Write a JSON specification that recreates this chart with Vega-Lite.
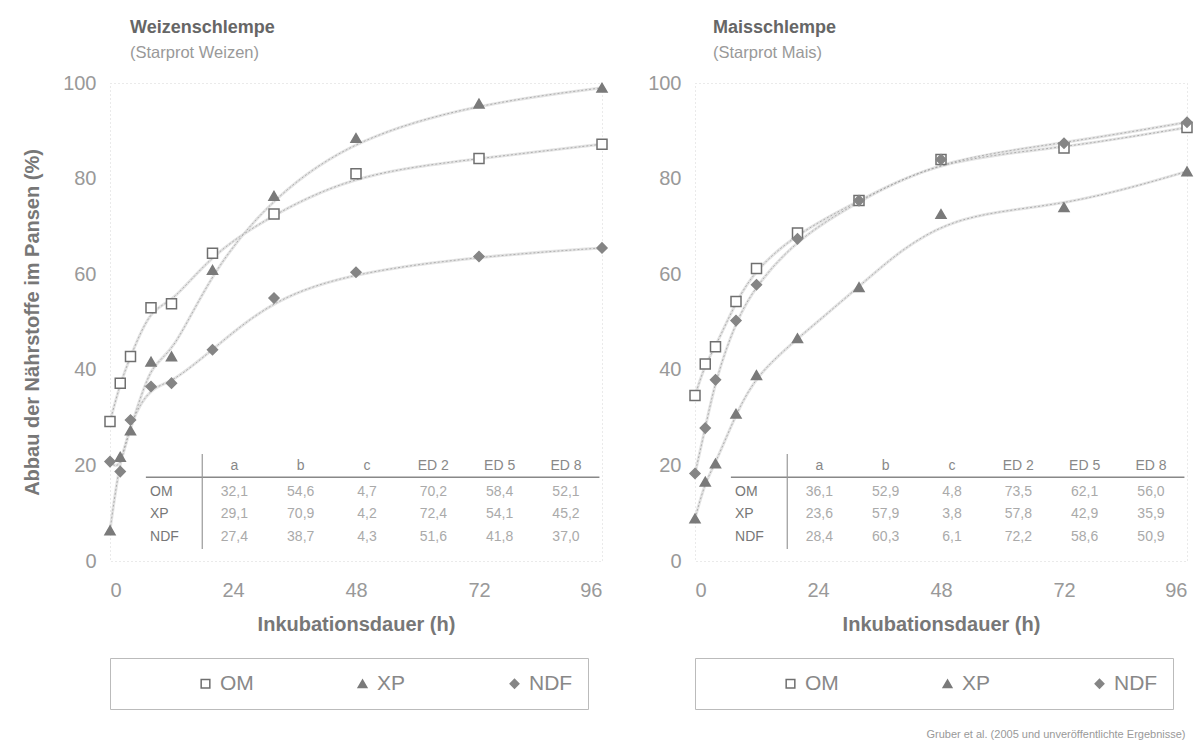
{
  "$schema": "https://vega.github.io/schema/vega-lite/v6.json",
  "background": "white",
  "padding": {"left": 22, "top": 18, "right": 12, "bottom": 4},
  "title": {"text": "Gruber et al. (2005 und unveröffentlichte Ergebnisse)", "orient": "bottom", "anchor": "end", "fontSize": 11, "fontWeight": "normal", "color": "#999999", "offset": 19, "dx": -10},
  "datasets": {
    "weizen": [
      {"t": 0, "param": "OM", "v": 29.2}, {"t": 2, "param": "OM", "v": 37.2}, {"t": 4, "param": "OM", "v": 42.8}, {"t": 8, "param": "OM", "v": 53.0}, {"t": 12, "param": "OM", "v": 53.8}, {"t": 20, "param": "OM", "v": 64.4}, {"t": 32, "param": "OM", "v": 72.6}, {"t": 48, "param": "OM", "v": 81.0}, {"t": 72, "param": "OM", "v": 84.2}, {"t": 96, "param": "OM", "v": 87.2},
      {"t": 0, "param": "XP", "v": 6.4}, {"t": 2, "param": "XP", "v": 21.8}, {"t": 4, "param": "XP", "v": 27.3}, {"t": 8, "param": "XP", "v": 41.7}, {"t": 12, "param": "XP", "v": 42.8}, {"t": 20, "param": "XP", "v": 60.9}, {"t": 32, "param": "XP", "v": 76.4}, {"t": 48, "param": "XP", "v": 88.5}, {"t": 72, "param": "XP", "v": 95.7}, {"t": 96, "param": "XP", "v": 99.0},
      {"t": 0, "param": "NDF", "v": 20.8}, {"t": 2, "param": "NDF", "v": 18.7}, {"t": 4, "param": "NDF", "v": 29.5}, {"t": 8, "param": "NDF", "v": 36.5}, {"t": 12, "param": "NDF", "v": 37.2}, {"t": 20, "param": "NDF", "v": 44.2}, {"t": 32, "param": "NDF", "v": 55.0}, {"t": 48, "param": "NDF", "v": 60.4}, {"t": 72, "param": "NDF", "v": 63.7}, {"t": 96, "param": "NDF", "v": 65.5}
    ],
    "mais": [
      {"t": 0, "param": "OM", "v": 34.6}, {"t": 2, "param": "OM", "v": 41.2}, {"t": 4, "param": "OM", "v": 44.8}, {"t": 8, "param": "OM", "v": 54.3}, {"t": 12, "param": "OM", "v": 61.2}, {"t": 20, "param": "OM", "v": 68.6}, {"t": 32, "param": "OM", "v": 75.4}, {"t": 48, "param": "OM", "v": 84.0}, {"t": 72, "param": "OM", "v": 86.4}, {"t": 96, "param": "OM", "v": 90.7},
      {"t": 0, "param": "XP", "v": 8.9}, {"t": 2, "param": "XP", "v": 16.6}, {"t": 4, "param": "XP", "v": 20.4}, {"t": 8, "param": "XP", "v": 30.8}, {"t": 12, "param": "XP", "v": 38.9}, {"t": 20, "param": "XP", "v": 46.6}, {"t": 32, "param": "XP", "v": 57.3}, {"t": 48, "param": "XP", "v": 72.6}, {"t": 72, "param": "XP", "v": 74.0}, {"t": 96, "param": "XP", "v": 81.5},
      {"t": 0, "param": "NDF", "v": 18.3}, {"t": 2, "param": "NDF", "v": 27.8}, {"t": 4, "param": "NDF", "v": 37.9}, {"t": 8, "param": "NDF", "v": 50.3}, {"t": 12, "param": "NDF", "v": 57.8}, {"t": 20, "param": "NDF", "v": 67.4}, {"t": 32, "param": "NDF", "v": 75.4}, {"t": 48, "param": "NDF", "v": 84.0}, {"t": 72, "param": "NDF", "v": 87.4}, {"t": 96, "param": "NDF", "v": 91.8}
    ],
    "weizenTab": [
      {"row": "head", "col": "a", "text": "a"}, {"row": "head", "col": "b", "text": "b"}, {"row": "head", "col": "c", "text": "c"}, {"row": "head", "col": "ED 2", "text": "ED 2"}, {"row": "head", "col": "ED 5", "text": "ED 5"}, {"row": "head", "col": "ED 8", "text": "ED 8"},
      {"row": "OM", "col": "lab", "text": "OM"}, {"row": "OM", "col": "a", "text": "32,1"}, {"row": "OM", "col": "b", "text": "54,6"}, {"row": "OM", "col": "c", "text": "4,7"}, {"row": "OM", "col": "ED 2", "text": "70,2"}, {"row": "OM", "col": "ED 5", "text": "58,4"}, {"row": "OM", "col": "ED 8", "text": "52,1"},
      {"row": "XP", "col": "lab", "text": "XP"}, {"row": "XP", "col": "a", "text": "29,1"}, {"row": "XP", "col": "b", "text": "70,9"}, {"row": "XP", "col": "c", "text": "4,2"}, {"row": "XP", "col": "ED 2", "text": "72,4"}, {"row": "XP", "col": "ED 5", "text": "54,1"}, {"row": "XP", "col": "ED 8", "text": "45,2"},
      {"row": "NDF", "col": "lab", "text": "NDF"}, {"row": "NDF", "col": "a", "text": "27,4"}, {"row": "NDF", "col": "b", "text": "38,7"}, {"row": "NDF", "col": "c", "text": "4,3"}, {"row": "NDF", "col": "ED 2", "text": "51,6"}, {"row": "NDF", "col": "ED 5", "text": "41,8"}, {"row": "NDF", "col": "ED 8", "text": "37,0"}
    ],
    "maisTab": [
      {"row": "head", "col": "a", "text": "a"}, {"row": "head", "col": "b", "text": "b"}, {"row": "head", "col": "c", "text": "c"}, {"row": "head", "col": "ED 2", "text": "ED 2"}, {"row": "head", "col": "ED 5", "text": "ED 5"}, {"row": "head", "col": "ED 8", "text": "ED 8"},
      {"row": "OM", "col": "lab", "text": "OM"}, {"row": "OM", "col": "a", "text": "36,1"}, {"row": "OM", "col": "b", "text": "52,9"}, {"row": "OM", "col": "c", "text": "4,8"}, {"row": "OM", "col": "ED 2", "text": "73,5"}, {"row": "OM", "col": "ED 5", "text": "62,1"}, {"row": "OM", "col": "ED 8", "text": "56,0"},
      {"row": "XP", "col": "lab", "text": "XP"}, {"row": "XP", "col": "a", "text": "23,6"}, {"row": "XP", "col": "b", "text": "57,9"}, {"row": "XP", "col": "c", "text": "3,8"}, {"row": "XP", "col": "ED 2", "text": "57,8"}, {"row": "XP", "col": "ED 5", "text": "42,9"}, {"row": "XP", "col": "ED 8", "text": "35,9"},
      {"row": "NDF", "col": "lab", "text": "NDF"}, {"row": "NDF", "col": "a", "text": "28,4"}, {"row": "NDF", "col": "b", "text": "60,3"}, {"row": "NDF", "col": "c", "text": "6,1"}, {"row": "NDF", "col": "ED 2", "text": "72,2"}, {"row": "NDF", "col": "ED 5", "text": "58,6"}, {"row": "NDF", "col": "ED 8", "text": "50,9"}
    ]
  },
  "spacing": 36,
  "hconcat": [
    {
      "width": 492,
      "height": 478,
      "title": {"text": "Weizenschlempe", "subtitle": "(Starprot Weizen)", "anchor": "start", "frame": "group", "dx": 20},
      "layer": [
        {
          "data": {"name": "weizen"},
          "encoding": {
            "x": {"field": "t", "type": "quantitative", "scale": {"domain": [0, 96], "nice": false}, "axis": {"title": "Inkubationsdauer (h)", "values": [0, 24, 48, 72, 96]}},
            "y": {"field": "v", "type": "quantitative", "scale": {"domain": [0, 100], "nice": false}, "axis": {"title": "Abbau der Nährstoffe im Pansen (%)", "values": [0, 20, 40, 60, 80, 100]}}
          },
          "layer": [
            {"mark": {"type": "line", "interpolate": "basis", "color": "#e4e4e4", "strokeWidth": 3}, "encoding": {"detail": {"field": "param"}}},
            {"mark": {"type": "line", "interpolate": "basis", "color": "#a0a0a0", "strokeWidth": 0.8, "strokeDash": [2, 2]}, "encoding": {"detail": {"field": "param"}}},
            {
              "mark": {"type": "point", "size": 100, "strokeWidth": 1.5, "opacity": 1, "filled": true},
              "encoding": {
                "shape": {"field": "param", "type": "nominal", "scale": {"domain": ["OM", "XP", "NDF"], "range": ["square", "triangle-up", "diamond"]}, "legend": {"title": null}},
                "fill": {"field": "param", "type": "nominal", "scale": {"domain": ["OM", "XP", "NDF"], "range": ["#ffffff", "#7a7a7a", "#858585"]}, "legend": {"title": null}},
                "stroke": {"field": "param", "type": "nominal", "scale": {"domain": ["OM", "XP", "NDF"], "range": ["#6f6f6f", "#7a7a7a", "#858585"]}, "legend": {"title": null}}
              }
            }
          ]
        },
        {
          "data": {"values": [{"k": 1}]},
          "layer": [
            {"mark": {"type": "rule", "color": "#888888", "strokeWidth": 1.5}, "encoding": {"x": {"datum": 7, "type": "quantitative", "scale": {"domain": [0, 96], "nice": false}, "axis": null}, "x2": {"datum": 95.5}, "y": {"datum": 17.5, "type": "quantitative"}}},
            {"mark": {"type": "rule", "color": "#999999", "strokeWidth": 1.2}, "encoding": {"x": {"datum": 18, "type": "quantitative", "scale": {"domain": [0, 96], "nice": false}, "axis": null}, "y": {"datum": 22.4, "type": "quantitative"}, "y2": {"datum": 2.5}}}
          ]
        },
        {
          "data": {"name": "weizenTab"},
          "encoding": {
            "x": {"field": "col", "type": "ordinal", "scale": {"type": "point", "domain": ["lab", "a", "b", "c", "ED 2", "ED 5", "ED 8"], "padding": 0.709, "align": 0.617}, "axis": null},
            "text": {"field": "text"}
          },
          "layer": [
            {"transform": [{"filter": "datum.row === 'head'"}], "mark": {"type": "text", "fontSize": 14, "color": "#888888"}, "encoding": {"y": {"datum": 19.9}}},
            {"transform": [{"filter": "datum.row === 'OM' && datum.col !== 'lab'"}], "mark": {"type": "text", "fontSize": 14, "color": "#aaaaaa"}, "encoding": {"y": {"datum": 14.4}}},
            {"transform": [{"filter": "datum.row === 'XP' && datum.col !== 'lab'"}], "mark": {"type": "text", "fontSize": 14, "color": "#aaaaaa"}, "encoding": {"y": {"datum": 9.8}}},
            {"transform": [{"filter": "datum.row === 'NDF' && datum.col !== 'lab'"}], "mark": {"type": "text", "fontSize": 14, "color": "#aaaaaa"}, "encoding": {"y": {"datum": 5.0}}},
            {"transform": [{"filter": "datum.row === 'OM' && datum.col === 'lab'"}], "mark": {"type": "text", "fontSize": 14, "color": "#777777", "align": "left", "dx": -18}, "encoding": {"y": {"datum": 14.4}}},
            {"transform": [{"filter": "datum.row === 'XP' && datum.col === 'lab'"}], "mark": {"type": "text", "fontSize": 14, "color": "#777777", "align": "left", "dx": -18}, "encoding": {"y": {"datum": 9.8}}},
            {"transform": [{"filter": "datum.row === 'NDF' && datum.col === 'lab'"}], "mark": {"type": "text", "fontSize": 14, "color": "#777777", "align": "left", "dx": -18}, "encoding": {"y": {"datum": 5.0}}}
          ]
        }
      ],
      "resolve": {"scale": {"x": "independent"}}
    },
    {
      "width": 492,
      "height": 478,
      "title": {"text": "Maisschlempe", "subtitle": "(Starprot Mais)", "anchor": "start", "frame": "group", "dx": 18},
      "layer": [
        {
          "data": {"name": "mais"},
          "encoding": {
            "x": {"field": "t", "type": "quantitative", "scale": {"domain": [0, 96], "nice": false}, "axis": {"title": "Inkubationsdauer (h)", "values": [0, 24, 48, 72, 96]}},
            "y": {"field": "v", "type": "quantitative", "scale": {"domain": [0, 100], "nice": false}, "axis": {"title": null, "values": [0, 20, 40, 60, 80, 100]}}
          },
          "layer": [
            {"mark": {"type": "line", "interpolate": "basis", "color": "#e4e4e4", "strokeWidth": 3}, "encoding": {"detail": {"field": "param"}}},
            {"mark": {"type": "line", "interpolate": "basis", "color": "#a0a0a0", "strokeWidth": 0.8, "strokeDash": [2, 2]}, "encoding": {"detail": {"field": "param"}}},
            {
              "mark": {"type": "point", "size": 100, "strokeWidth": 1.5, "opacity": 1, "filled": true},
              "encoding": {
                "shape": {"field": "param", "type": "nominal", "scale": {"domain": ["OM", "XP", "NDF"], "range": ["square", "triangle-up", "diamond"]}, "legend": {"title": null}},
                "fill": {"field": "param", "type": "nominal", "scale": {"domain": ["OM", "XP", "NDF"], "range": ["#ffffff", "#7a7a7a", "#858585"]}, "legend": {"title": null}},
                "stroke": {"field": "param", "type": "nominal", "scale": {"domain": ["OM", "XP", "NDF"], "range": ["#6f6f6f", "#7a7a7a", "#858585"]}, "legend": {"title": null}}
              }
            }
          ]
        },
        {
          "data": {"values": [{"k": 1}]},
          "layer": [
            {"mark": {"type": "rule", "color": "#888888", "strokeWidth": 1.5}, "encoding": {"x": {"datum": 7, "type": "quantitative", "scale": {"domain": [0, 96], "nice": false}, "axis": null}, "x2": {"datum": 95.5}, "y": {"datum": 17.5, "type": "quantitative"}}},
            {"mark": {"type": "rule", "color": "#999999", "strokeWidth": 1.2}, "encoding": {"x": {"datum": 18, "type": "quantitative", "scale": {"domain": [0, 96], "nice": false}, "axis": null}, "y": {"datum": 22.4, "type": "quantitative"}, "y2": {"datum": 2.5}}}
          ]
        },
        {
          "data": {"name": "maisTab"},
          "encoding": {
            "x": {"field": "col", "type": "ordinal", "scale": {"type": "point", "domain": ["lab", "a", "b", "c", "ED 2", "ED 5", "ED 8"], "padding": 0.709, "align": 0.617}, "axis": null},
            "text": {"field": "text"}
          },
          "layer": [
            {"transform": [{"filter": "datum.row === 'head'"}], "mark": {"type": "text", "fontSize": 14, "color": "#888888"}, "encoding": {"y": {"datum": 19.9}}},
            {"transform": [{"filter": "datum.row === 'OM' && datum.col !== 'lab'"}], "mark": {"type": "text", "fontSize": 14, "color": "#aaaaaa"}, "encoding": {"y": {"datum": 14.4}}},
            {"transform": [{"filter": "datum.row === 'XP' && datum.col !== 'lab'"}], "mark": {"type": "text", "fontSize": 14, "color": "#aaaaaa"}, "encoding": {"y": {"datum": 9.8}}},
            {"transform": [{"filter": "datum.row === 'NDF' && datum.col !== 'lab'"}], "mark": {"type": "text", "fontSize": 14, "color": "#aaaaaa"}, "encoding": {"y": {"datum": 5.0}}},
            {"transform": [{"filter": "datum.row === 'OM' && datum.col === 'lab'"}], "mark": {"type": "text", "fontSize": 14, "color": "#777777", "align": "left", "dx": -18}, "encoding": {"y": {"datum": 14.4}}},
            {"transform": [{"filter": "datum.row === 'XP' && datum.col === 'lab'"}], "mark": {"type": "text", "fontSize": 14, "color": "#777777", "align": "left", "dx": -18}, "encoding": {"y": {"datum": 9.8}}},
            {"transform": [{"filter": "datum.row === 'NDF' && datum.col === 'lab'"}], "mark": {"type": "text", "fontSize": 14, "color": "#777777", "align": "left", "dx": -18}, "encoding": {"y": {"datum": 5.0}}}
          ]
        }
      ],
      "resolve": {"scale": {"x": "independent"}}
    }
  ],
  "resolve": {
    "scale": {"shape": "independent", "fill": "independent", "stroke": "independent"},
    "legend": {"shape": "independent", "fill": "independent", "stroke": "independent"}
  },
  "config": {
    "font": "Liberation Sans",
    "view": {"stroke": "#d4d4d4", "strokeDash": [1, 3]},
    "axis": {"labelFontSize": 20, "labelColor": "#999999", "titleFontSize": 20, "titleFontWeight": "bold", "titleColor": "#777777", "domain": false, "ticks": false, "grid": false, "labelPadding": 14},
    "axisX": {"titlePadding": 14, "labelPadding": 19},
    "axisY": {"titlePadding": 20},
    "title": {"fontSize": 18, "fontWeight": "bold", "color": "#666666", "subtitleFontSize": 16.5, "subtitleColor": "#999999", "subtitlePadding": 8, "offset": 12},
    "legend": {"orient": "bottom", "direction": "horizontal", "strokeColor": "#bbbbbb", "padding": 15, "columnPadding": 28, "symbolOffset": 70, "labelFontSize": 21, "labelColor": "#888888", "symbolSize": 75, "symbolStrokeWidth": 1.5, "offset": 24}
  }
}
